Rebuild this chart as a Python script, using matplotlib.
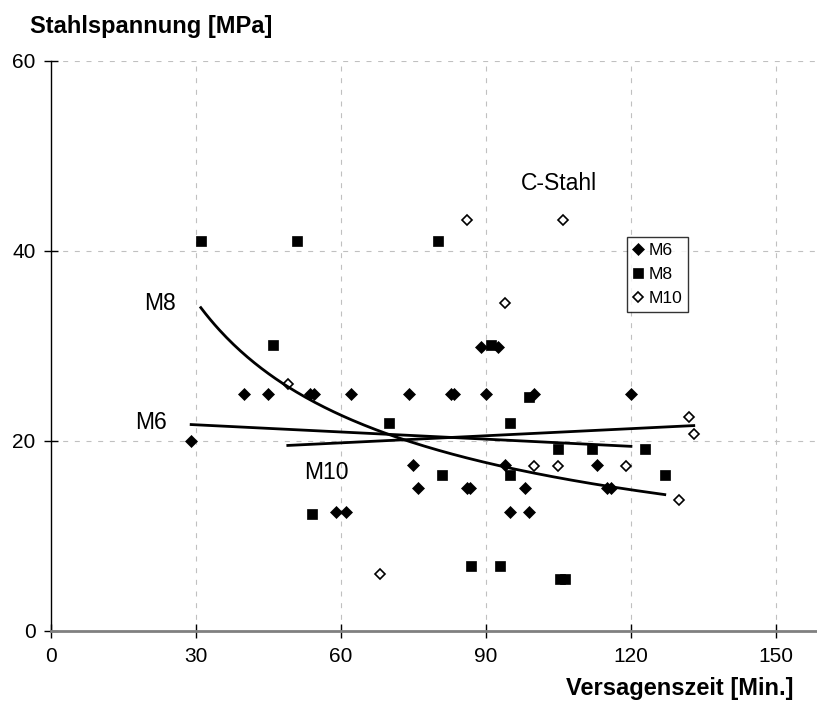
import numpy as np
import matplotlib
matplotlib.use("Agg")
import matplotlib.pyplot as plt

plt.rcParams['font.family'] = ['Liberation Sans', 'DejaVu Sans']

# Measurements: failure time [min] vs. steel stress [MPa]
m6_time = [29, 40, 45, 53.6, 54.5, 62, 74, 82.7, 83.4, 90, 100, 120, 89, 92.5,
           75, 76, 59, 61, 94, 113, 86, 86.6, 98, 115, 115.8, 95, 99]
m6_stress = [20.0, 24.9, 24.9, 24.9, 24.9, 24.9, 24.9, 24.9, 24.9, 24.9, 24.9, 24.9, 29.9, 29.9,
             17.4, 15.0, 12.5, 12.5, 17.4, 17.4, 15.0, 15.0, 15.0, 15.0, 15.0, 12.5, 12.5]

m8_time = [31, 51, 80, 46, 91, 99, 70, 95, 81, 95, 127, 54, 105, 112, 123, 87, 93, 105.4, 106.4]
m8_stress = [41.0, 41.0, 41.0, 30.1, 30.1, 24.6, 21.9, 21.9, 16.4, 16.4, 16.4, 12.3,
             19.1, 19.1, 19.1, 6.8, 6.8, 5.4, 5.4]

m10_time = [49, 86, 106, 94, 68, 132, 133, 100, 105, 119, 130]
m10_stress = [26.0, 43.2, 43.2, 34.5, 6.0, 22.5, 20.7, 17.3, 17.3, 17.3, 13.8]

# Trend lines: linear (M6, M10) and power law (M8)
m6_trend = (-0.0252, 22.43)      # slope, intercept
m10_trend = (0.0249, 18.28)      # slope, intercept
m8_trend = (279.1, -0.613)       # a * t**b

x_ticks = [0, 30, 60, 90, 120, 150]
y_ticks = [0, 20, 40, 60]

W, H = 817, 706
x0_px, x1_px = 51, 817
y0_px, y1_px = 630.7, 60.7

fig = plt.figure(figsize=(W / 100, H / 100), dpi=100)
ax = fig.add_axes([x0_px / W, 1 - y0_px / H, (x1_px - x0_px) / W, (y0_px - y1_px) / H])
ax.set_xlim(0, 158.5)
ax.set_ylim(0, 60)

# grid
for xv in x_ticks[1:]:
    ax.axvline(xv, color='#c0c0c0', lw=0.8, dashes=(4.5, 6), zorder=0)
for yv in y_ticks[1:]:
    ax.axhline(yv, color='#c0c0c0', lw=0.8, dashes=(4.5, 6), zorder=0)

# markers
ax.plot(m6_time, m6_stress, 'D', ms=6.4, mfc='black', mec='black', mew=0.5,
        ls='none', label='M6', zorder=3)
ax.plot(m8_time, m8_stress, 's', ms=7.0, mfc='black', mec='black', mew=0.5,
        ls='none', label='M8', zorder=3)
ax.plot(m10_time, m10_stress, 'D', ms=5.4, mfc='white', mec='black', mew=1.2,
        ls='none', label='M10', zorder=3)

# trend lines over the range of each series
t6 = np.linspace(min(m6_time), max(m6_time), 100)
ax.plot(t6, m6_trend[0] * t6 + m6_trend[1], color='black', lw=2.0, zorder=4)
t10 = np.linspace(min(m10_time), max(m10_time), 100)
ax.plot(t10, m10_trend[0] * t10 + m10_trend[1], color='black', lw=2.0, zorder=4)
t8 = np.linspace(min(m8_time), max(m8_time), 200)
ax.plot(t8, m8_trend[0] * t8 ** m8_trend[1], color='black', lw=2.0, zorder=4)

# curve labels
lab_fs = 16.5
ax.text(22.6, 34.4, 'M8', fontsize=lab_fs, ha='center', va='center')
ax.text(20.6, 21.9, 'M6', fontsize=lab_fs, ha='center', va='center')
ax.text(56.9, 16.7, 'M10', fontsize=lab_fs, ha='center', va='center')
ax.text(105.1, 47.1, 'C-Stahl', fontsize=lab_fs, ha='center', va='center')

# axes styling
for s in ('top', 'right'):
    ax.spines[s].set_visible(False)
ax.spines['left'].set_color('black')
ax.spines['left'].set_linewidth(1.0)
ax.spines['bottom'].set_color('#808080')
ax.spines['bottom'].set_linewidth(2.0)
ax.set_xticks(x_ticks)
ax.set_yticks(y_ticks)
ax.tick_params(direction='inout', length=10, width=1.0, color='black',
               labelsize=15, pad=6)
ax.tick_params(axis='x', pad=7)

leg = ax.legend(loc='upper left',
                bbox_to_anchor=((627 - x0_px) / (x1_px - x0_px), (y0_px - 237) / (y0_px - y1_px)),
                bbox_transform=ax.transAxes, frameon=True, fancybox=False,
                edgecolor='black', fontsize=12.6, handlelength=0.6, handletextpad=0.3,
                borderpad=0.33, labelspacing=0.5, borderaxespad=0)
leg.get_frame().set_linewidth(1.0)

fig.text(30 / W, 1 - 27 / H, 'Stahlspannung [MPa]', fontsize=17,
         fontweight='bold', ha='left', va='center')
fig.text(794 / W, 1 - 688 / H, 'Versagenszeit [Min.]', fontsize=17,
         fontweight='bold', ha='right', va='center')

fig.savefig('out.png', dpi=100)
